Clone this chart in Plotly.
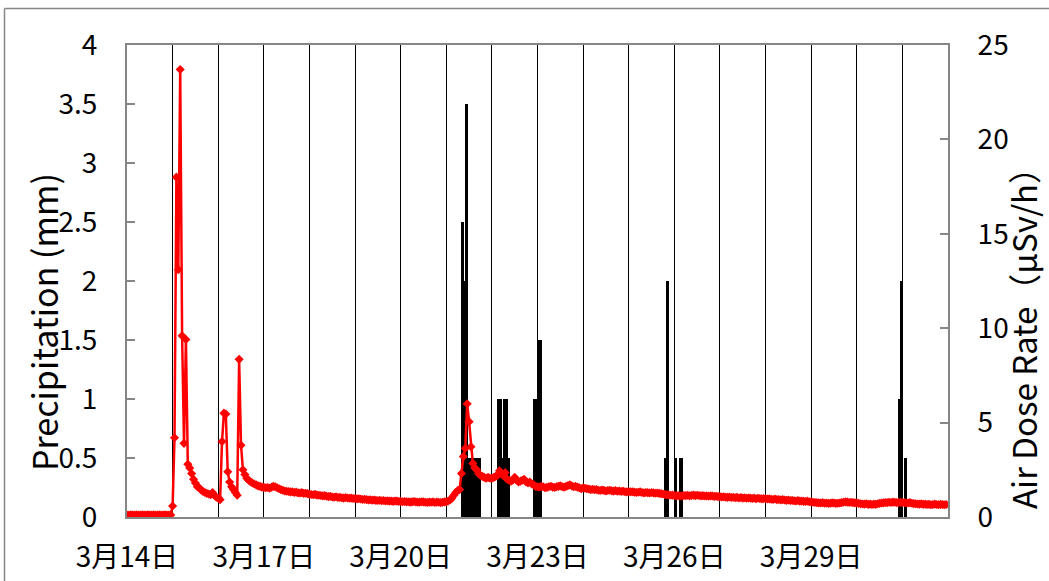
import pandas as pd
import plotly.graph_objects as go

# ---------------- data ----------------
dose_start = "2011-03-14 00:00"  # hourly air dose rate readings (μSv/h)
dose_d14 = [0.10, 0.10, 0.11, 0.10, 0.10, 0.11, 0.10, 0.10, 0.11, 0.10, 0.10, 0.11,
            0.10, 0.10, 0.11, 0.10, 0.10, 0.11, 0.10, 0.10, 0.11, 0.10, 0.10, 0.11]
dose_d15 = [0.58, 4.2, 18.0, 13.1, 23.7, 9.6, 3.9, 9.4, 2.8, 2.6, 2.3, 2.0,
            1.8, 1.6, 1.55, 1.43, 1.35, 1.3, 1.25, 1.22, 1.18, 1.3, 1.15, 1.05]
dose_d16 = [1.0, 0.92, 4.0, 5.5, 5.45, 2.4, 1.85, 1.6, 1.45, 1.3, 1.15, 8.35,
            3.8, 2.5, 2.25, 2.05, 1.95, 1.87, 1.8, 1.75, 1.7, 1.65, 1.62, 1.58]
dose_d17 = [1.57, 1.55, 1.56, 1.52, 1.58, 1.62, 1.6, 1.55, 1.5, 1.45, 1.42, 1.38,
            1.36, 1.35, 1.33, 1.34, 1.3, 1.32, 1.28, 1.27, 1.29, 1.25, 1.26, 1.24]
dose_d18 = [1.2, 1.19, 1.18, 1.2, 1.16, 1.15, 1.14, 1.12, 1.13, 1.1, 1.08, 1.1,
            1.06, 1.05, 1.07, 1.03, 1.04, 1.02, 1.0, 1.03, 1.01, 0.99, 1.0, 0.98]
dose_d19 = [0.98, 0.96, 0.97, 0.95, 0.93, 0.94, 0.92, 0.9, 0.91, 0.89, 0.9, 0.88,
            0.87, 0.89, 0.86, 0.87, 0.85, 0.86, 0.84, 0.85, 0.83, 0.85, 0.84, 0.82]
dose_d20 = [0.83, 0.81, 0.82, 0.8, 0.81, 0.79, 0.8, 0.82, 0.8, 0.78, 0.79, 0.81,
            0.8, 0.78, 0.77, 0.79, 0.78, 0.8, 0.77, 0.79, 0.78, 0.76, 0.78, 0.8]
dose_d21 = [0.8, 0.85, 0.9, 1.0, 1.15, 1.3, 1.4, 1.45, 2.3, 3.2, 3.64, 6.0,
            5.05, 3.72, 2.84, 2.6, 2.5, 2.3, 2.2, 2.15, 2.1, 2.05, 2.1, 2.05]
dose_d22 = [2.05, 2.1, 2.15, 2.2, 2.45, 2.3, 2.2, 2.35, 2.0, 1.95, 1.9, 1.95,
            2.1, 1.95, 1.85, 1.9, 1.95, 2.0, 1.85, 1.8, 1.85, 1.75, 1.7, 1.62]
dose_d23 = [1.6, 1.58, 1.62, 1.6, 1.55, 1.57, 1.6, 1.63, 1.58, 1.56, 1.6, 1.62,
            1.65, 1.6, 1.58, 1.62, 1.66, 1.7, 1.65, 1.6, 1.62, 1.58, 1.55, 1.5]
dose_d24 = [1.55, 1.52, 1.5, 1.48, 1.45, 1.47, 1.44, 1.46, 1.42, 1.4, 1.43, 1.41,
            1.38, 1.4, 1.42, 1.39, 1.37, 1.4, 1.36, 1.38, 1.35, 1.37, 1.34, 1.33]
dose_d25 = [1.35, 1.33, 1.34, 1.32, 1.3, 1.31, 1.33, 1.3, 1.28, 1.3, 1.29, 1.27,
            1.3, 1.28, 1.26, 1.27, 1.25, 1.24, 1.22, 1.2, 1.18, 1.17, 1.15, 1.16]
dose_d26 = [1.14, 1.12, 1.13, 1.11, 1.12, 1.14, 1.13, 1.15, 1.12, 1.14, 1.16, 1.13,
            1.15, 1.14, 1.12, 1.13, 1.11, 1.12, 1.1, 1.12, 1.11, 1.09, 1.1, 1.08]
dose_d27 = [1.08, 1.06, 1.07, 1.05, 1.04, 1.06, 1.03, 1.05, 1.02, 1.04, 1.01, 1.03,
            1.0, 1.02, 0.99, 1.01, 1.0, 0.98, 1.0, 0.97, 0.99, 0.98, 0.96, 0.98]
dose_d28 = [0.97, 0.95, 0.96, 0.94, 0.93, 0.95, 0.92, 0.93, 0.9, 0.92, 0.9, 0.88,
            0.9, 0.87, 0.88, 0.86, 0.85, 0.87, 0.84, 0.85, 0.83, 0.82, 0.84, 0.81]
dose_d29 = [0.8, 0.78, 0.77, 0.76, 0.75, 0.74, 0.76, 0.73, 0.74, 0.72, 0.73, 0.75,
            0.74, 0.72, 0.73, 0.74, 0.76, 0.78, 0.8, 0.79, 0.77, 0.78, 0.76, 0.75]
dose_d30 = [0.74, 0.72, 0.7, 0.69, 0.68, 0.7, 0.67, 0.68, 0.66, 0.68, 0.67, 0.7,
            0.72, 0.74, 0.75, 0.77, 0.76, 0.78, 0.77, 0.79, 0.78, 0.76, 0.77, 0.78]
dose_d31 = [0.76, 0.77, 0.75, 0.74, 0.76, 0.73, 0.71, 0.7, 0.69, 0.68, 0.7, 0.67,
            0.68, 0.66, 0.67, 0.65, 0.66, 0.68, 0.66, 0.65, 0.67, 0.66, 0.65, 0.66]

precip_time = ["2011-03-21 08:30", "2011-03-21 09:30", "2011-03-21 10:30",
               "2011-03-21 11:30", "2011-03-21 12:30", "2011-03-21 13:30",
               "2011-03-21 14:30", "2011-03-21 15:30", "2011-03-21 16:30",
               "2011-03-21 17:30",
               "2011-03-22 03:30", "2011-03-22 04:30", "2011-03-22 05:30",
               "2011-03-22 06:30", "2011-03-22 07:30", "2011-03-22 08:30",
               "2011-03-22 22:30", "2011-03-22 23:30", "2011-03-23 00:30",
               "2011-03-23 01:30",
               "2011-03-25 19:30", "2011-03-25 20:30", "2011-03-26 00:30",
               "2011-03-26 03:30",
               "2011-03-30 22:30", "2011-03-30 23:30", "2011-03-31 01:30"]
precip_mm = [2.5, 2.0, 3.5,
             0.5, 0.5, 0.5, 0.5, 0.5, 0.5, 0.5,
             1.0, 1.0, 0.5, 1.0, 1.0, 0.5,
             1.0, 1.0, 1.5, 1.5,
             0.5, 2.0, 0.5, 0.5,
             1.0, 2.0, 0.5]

x_tick_vals = ["2011-03-14", "2011-03-17", "2011-03-20", "2011-03-23", "2011-03-26", "2011-03-29"]
x_tick_text = ["3月14日", "3月17日", "3月20日", "3月23日", "3月26日", "3月29日"]
x_range = ["2011-03-14 00:00", "2011-04-01 00:00"]

left_title = "Precipitation (mm)"
right_title = "Air Dose Rate（μSv/h）"

# ---------------- figure ----------------
dose_values = (dose_d14 + dose_d15 + dose_d16 + dose_d17 + dose_d18 + dose_d19 + dose_d20 +
               dose_d21 + dose_d22 + dose_d23 + dose_d24 + dose_d25 + dose_d26 + dose_d27 +
               dose_d28 + dose_d29 + dose_d30 + dose_d31)
dose_time = pd.date_range(dose_start, periods=len(dose_values), freq="h")

FONT = "Noto Sans CJK JP, Noto Sans, sans-serif"
AXIS_GRAY = "#868686"

fig = go.Figure()
fig.add_trace(go.Bar(
    x=pd.to_datetime(precip_time), y=precip_mm, yaxis="y",
    marker=dict(color="black", line=dict(width=0)),
    width=1.6 * 3600 * 1000, showlegend=False,
))
fig.add_trace(go.Scatter(
    x=dose_time, y=dose_values, yaxis="y2", mode="lines+markers",
    line=dict(color="#FF0000", width=2.5),
    marker=dict(symbol="diamond", size=7, color="#FF0000"),
    showlegend=False,
))

ml, mr, mt, mb = 127, 101, 45, 64
W, H = 1049, 581
pw, ph = W - ml - mr, H - mt - mb


def px_x(px):
    return (px - ml) / pw


def px_y(py):
    return (H - mb - py) / ph


fig.update_layout(
    width=W, height=H,
    margin=dict(l=ml, r=mr, t=mt, b=mb, pad=0),
    paper_bgcolor="white", plot_bgcolor="white",
    font=dict(family=FONT, color="black", size=28),
    bargap=0, barmode="overlay",
    xaxis=dict(
        type="date", range=x_range,
        tickmode="array", tickvals=x_tick_vals, ticktext=x_tick_text,
        ticks="", showgrid=True, gridcolor="black", gridwidth=1,
        minor=dict(dtick=86400000, tick0="2011-03-14", showgrid=True,
                   gridcolor="black", gridwidth=1, ticks=""),
        showline=True, linecolor=AXIS_GRAY, linewidth=2, mirror=True,
        tickfont=dict(size=28, family=FONT), ticklabelstandoff=14,
        zeroline=False, automargin=False,
    ),
    yaxis=dict(
        range=[0, 4], dtick=0.5, tick0=0,
        ticks="inside", ticklen=8, tickcolor=AXIS_GRAY, tickwidth=2,
        showgrid=False, zeroline=False,
        showline=True, linecolor=AXIS_GRAY, linewidth=2,
        tickfont=dict(size=28, family=FONT), ticklabelstandoff=22,
        automargin=False,
    ),
    yaxis2=dict(
        range=[0, 25], dtick=5, tick0=0, overlaying="y", side="right",
        ticks="inside", ticklen=8, tickcolor=AXIS_GRAY, tickwidth=2,
        showgrid=False, zeroline=False,
        showline=True, linecolor=AXIS_GRAY, linewidth=2,
        tickfont=dict(size=28, family=FONT), ticklabelstandoff=22,
        automargin=False,
    ),
    annotations=[
        dict(text=left_title, xref="paper", yref="paper", x=px_x(43), y=px_y(322),
             textangle=-90, showarrow=False, xanchor="center", yanchor="middle",
             font=dict(size=34, family=FONT)),
        dict(text=right_title, xref="paper", yref="paper", x=px_x(1023), y=px_y(330),
             textangle=-90, showarrow=False, xanchor="center", yanchor="middle",
             font=dict(size=33, family=FONT)),
    ],
    shapes=[
        dict(type="line", xref="paper", yref="paper", x0=px_x(4.5), x1=px_x(W + 5),
             y0=px_y(8.5), y1=px_y(8.5), line=dict(color=AXIS_GRAY, width=1.5)),
        dict(type="line", xref="paper", yref="paper", x0=px_x(4.5), x1=px_x(4.5),
             y0=px_y(8.5), y1=px_y(H + 5), line=dict(color=AXIS_GRAY, width=1.5)),
    ],
)

fig.write_html("out.html", config={"displayModeBar": False},
               post_script="document.body.style.margin='0';document.body.style.padding='0';")
